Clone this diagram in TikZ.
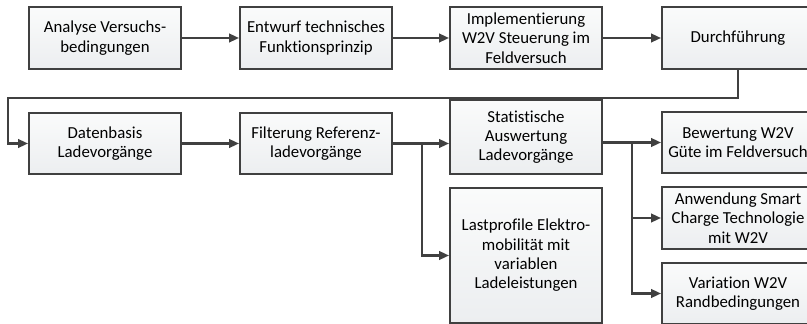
\documentclass[tikz,border=0pt]{standalone}
\usepackage{fontspec}
\setmainfont{Carlito}[Ligatures=NoCommon]
\usepackage{xcolor}
\usepackage{tikz}
\usetikzlibrary{calc, arrows.meta, positioning}

\definecolor{linegray}{HTML}{404040}
\definecolor{boxtop}{HTML}{FAFBFB}
\definecolor{boxbottom}{HTML}{ECEEF0}

\begin{document}
\begin{tikzpicture}[
    x=0.75pt, y=-0.75pt,
    >={Triangle[length=7.5pt, width=6.5pt]},
    flow_arrow/.style={draw=linegray, line width=1.6pt, ->},
    flow_line/.style={draw=linegray, line width=1.6pt},
    % Prozessschritte
    step_node/.style={rectangle, draw=linegray, line width=1.5pt, top color=boxtop, bottom color=boxbottom, minimum width=114pt, minimum height=46pt, inner sep=1pt, align=center, font=\fontsize{12.6}{14.5}\selectfont},
    mid_node/.style={step_node, minimum height=55.5pt},
    tall_node/.style={step_node, minimum height=101.25pt}
]
    \clip (0,0) rectangle (807,324);

    % =========================================================================
    % Zeile 1: Vorbereitung und Feldversuch
    % =========================================================================
    \node [step_node] (ana) at (105, 38) {Analyse Versuchs-\\bedingungen};
    \node [step_node] (ent) at (316, 38) {Entwurf technisches\\Funktionsprinzip};
    \node [step_node] (imp) at (526, 38) {Implementierung\\W2V Steuerung im\\Feldversuch};
    \node [step_node] (dur) at (738, 38) {Durchführung};

    \draw [flow_arrow] (ana.east) -- (ent.west);
    \draw [flow_arrow] (ent.east) -- (imp.west);
    \draw [flow_arrow] (imp.east) -- (dur.west);

    % =========================================================================
    % Zeile 2: Auswertung
    % =========================================================================
    \node [step_node] (dat) at (105, 143.5) {Datenbasis\\Ladevorgänge};
    \node [step_node] (fil) at (316, 143.5) {Filterung Referenz-\\ladevorgänge};
    \node [mid_node] (sta) at (526, 137) {Statistische\\Auswertung\\Ladevorgänge};
    \node [tall_node] (las) at (526, 255.5) {Lastprofile Elektro-\\mobilität mit\\variablen\\Ladeleistungen};

    \coordinate (back) at (8, 98);
    \draw [flow_arrow] (dur.south) |- (back) |- (dat.west);
    \draw [flow_arrow] (dat.east) -- (fil.west);
    \draw [flow_arrow] (fil.east) -- (fil.east -| sta.west);

    \coordinate (split_a) at (422, 143.5);
    \draw [flow_arrow] (split_a) |- (las.west);

    % =========================================================================
    % Ergebnisse
    % =========================================================================
    \node [step_node] (bew) at (738, 142.5) {Bewertung W2V\\Güte im Feldversuch};
    \node [step_node] (anw) at (738, 218) {Anwendung Smart\\Charge Technologie\\mit W2V};
    \node [step_node] (var) at (738, 293.5) {Variation W2V\\Randbedingungen};

    \draw [flow_arrow] (bew.west -| sta.east) -- (bew.west);

    \coordinate (split_b) at (632, 142.5);
    \draw [flow_arrow] (split_b) |- (anw.west);
    \draw [flow_arrow] (split_b) |- (var.west);
\end{tikzpicture}
\end{document}
